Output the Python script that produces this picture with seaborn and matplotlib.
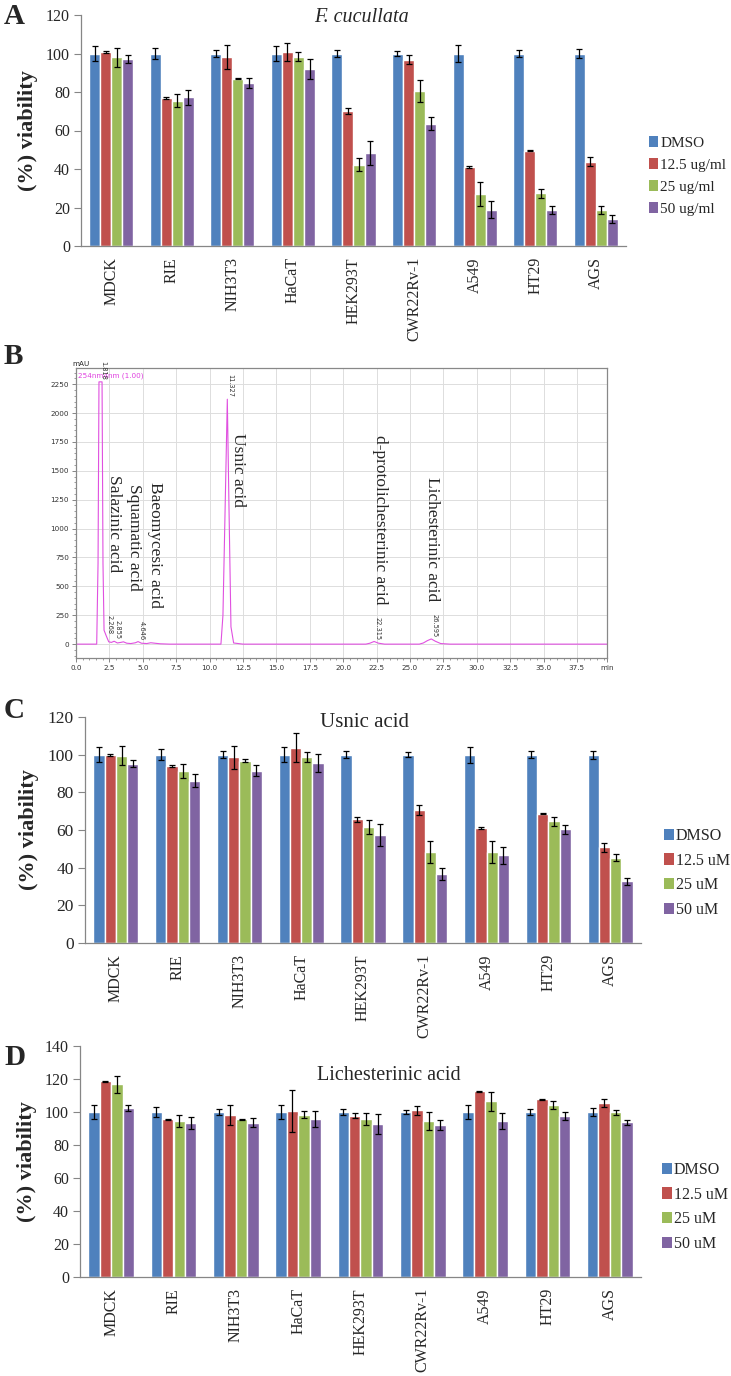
import numpy as np
import pandas as pd
import matplotlib
matplotlib.use('Agg')
import matplotlib.pyplot as plt
import seaborn as sns
from matplotlib.patches import Patch
from matplotlib.ticker import MultipleLocator, FixedLocator

# ---- data ----
cells = ['MDCK', 'RIE', 'NIH3T3', 'HaCaT', 'HEK293T', 'CWR22Rv-1', 'A549', 'HT29', 'AGS']
bar_colors = ['#4F81BD', '#C0504D', '#9BBB59', '#8064A2']
doses_ug = ['DMSO', '12.5 ug/ml', '25 ug/ml', '50 ug/ml']
doses_um = ['DMSO', '12.5 uM', '25 uM', '50 uM']

# A: F. cucullata extract
fc_dmso = [100, 100, 100, 100, 100, 100, 100, 100, 100]
fc_125 = [101.0, 76.8, 98.2, 100.7, 70.3, 96.8, 41.2, 49.6, 43.8]
fc_25 = [98.0, 75.5, 87.0, 98.4, 42.3, 80.3, 27.0, 27.3, 18.6]
fc_50 = [97.3, 77.2, 84.8, 92.0, 48.3, 63.6, 18.8, 18.8, 14.2]
fc_dmso_err = [4.0, 3.0, 2.0, 4.0, 2.0, 1.5, 4.2, 1.8, 2.2]
fc_125_err = [0.5, 0.5, 6.0, 4.5, 1.5, 2.5, 0.5, 0.3, 2.5]
fc_25_err = [5.0, 3.5, 0.5, 2.5, 3.5, 5.7, 6.0, 2.5, 2.0]
fc_50_err = [2.0, 3.8, 2.5, 5.0, 6.0, 3.3, 4.5, 2.2, 2.0]

# C: usnic acid
us_dmso = [100, 100, 100, 100, 100, 100, 100, 100, 100]
us_125 = [99.6, 94.0, 98.5, 103.6, 65.6, 70.7, 61.0, 68.7, 50.8]
us_25 = [99.5, 91.2, 96.8, 98.7, 61.5, 48.3, 48.3, 64.6, 45.3]
us_50 = [95.3, 86.2, 91.5, 95.7, 57.3, 36.7, 46.6, 60.3, 32.7]
us_dmso_err = [4.0, 3.0, 2.0, 4.0, 2.0, 1.5, 4.2, 1.7, 2.2]
us_125_err = [0.5, 0.5, 6.0, 7.7, 1.5, 2.5, 0.5, 0.3, 2.5]
us_25_err = [5.0, 3.8, 0.8, 2.5, 3.7, 5.7, 6.0, 2.3, 2.0]
us_50_err = [2.0, 3.5, 2.8, 4.7, 6.0, 3.2, 4.5, 2.3, 1.8]

# D: lichesterinic acid
li_dmso = [100, 100, 100, 100, 100, 100, 100, 100, 100]
li_125 = [118.5, 95.5, 98.3, 100.5, 97.8, 101.0, 112.5, 107.6, 105.3]
li_25 = [116.9, 94.5, 95.7, 98.4, 95.9, 94.5, 106.5, 104.2, 99.7]
li_50 = [102.2, 93.6, 93.6, 95.7, 92.8, 92.1, 94.5, 97.7, 93.7]
li_dmso_err = [4.0, 2.8, 2.0, 4.0, 2.0, 1.5, 4.2, 1.7, 2.2]
li_125_err = [0.3, 0.3, 6.2, 12.7, 1.5, 2.6, 0.3, 0.3, 2.5]
li_25_err = [5.2, 3.8, 0.3, 2.2, 3.7, 5.6, 5.7, 2.4, 1.8]
li_50_err = [1.8, 3.6, 2.8, 4.7, 6.0, 3.2, 4.8, 2.3, 1.7]

# B: HPLC trace (254 nm)
rt_min = [0.0, 1.55, 1.65, 1.72, 1.95, 2.02, 2.10, 2.27, 2.45, 2.65, 2.855, 3.1, 3.35,
          3.55, 3.8, 4.1, 4.45, 4.646, 4.9, 5.3, 5.6, 5.9, 6.3, 7.0, 10.85, 11.0, 11.15,
          11.327, 11.45, 11.6, 11.8, 12.5, 21.7, 22.0, 22.315, 22.65, 23.1, 25.7, 26.0,
          26.3, 26.595, 26.9, 27.3, 28.0, 39.75]
signal_mau = [0, 0, 700, 2270, 2270, 700, 120, 70, 20, 15, 25, 10, 15, 20, 8, 5, 12, 22,
              8, 5, 12, 8, 3, 0, 0, 250, 1100, 2120, 1200, 150, 10, 0, 0, 8, 23, 8, 0, 0,
              10, 30, 45, 25, 5, 0, 0]
peak_rt = [1.818, 2.268, 2.855, 4.646, 11.327, 22.315, 26.595]
peak_top = [2270, 70, 25, 22, 2120, 23, 45]
peak_text = ['1.818', '2.268', '2.855', '4.646', '11.327', '22.315', '26.595']
compounds = ['Salazinic acid', 'Squamatic acid', 'Baeomycesic acid', 'Usnic acid',
             'd-protolichesterinic acid', 'Lichesterinic acid']
compound_rt = [2.84, 4.34, 5.91, 12.13, 22.75, 26.65]
compound_top = [1460, 1390, 1400, 1825, 1810, 1445]

# ---- style ----
sns.set_style('white')
plt.rcParams['font.family'] = ['Liberation Serif', 'DejaVu Serif']
W, H = 731, 1376
fig = plt.figure(figsize=(W / 100, H / 100), dpi=100)
AXIS_GRAY = '#868686'


def px_axes(left, right, top, bottom):
    return fig.add_axes([left / W, 1 - bottom / H, (right - left) / W, (bottom - top) / H])


def bar_panel(ax, series, errs, doses, ymax, step, tick_fs):
    rows = []
    for dose, vals in zip(doses, series):
        for c, v in zip(cells, vals):
            rows.append([c, dose, v])
    df = pd.DataFrame(rows, columns=['cell', 'dose', 'value'])
    sns.barplot(data=df, x='cell', y='value', hue='dose', palette=bar_colors,
                width=0.73, errorbar=None, saturation=1, legend=False, ax=ax)
    for cont, err in zip(ax.containers, errs):
        xs = [b.get_x() + b.get_width() / 2 for b in cont]
        ys = [b.get_height() for b in cont]
        ax.errorbar(xs, ys, yerr=err, fmt='none', ecolor='black', elinewidth=0.9,
                    capsize=2.5, capthick=0.9)
    ax.set_xlim(-0.5, len(cells) - 0.5)
    ax.set_ylim(0, ymax)
    ax.set_yticks(np.arange(0, ymax + 1, step))
    ax.set_xlabel('')
    ax.set_ylabel('(%) viability', fontsize=16, fontweight='bold', labelpad=6)
    ax.set_xticks(range(len(cells)))
    ax.set_xticklabels(cells, rotation=90, fontsize=11.5)
    ax.xaxis.set_minor_locator(FixedLocator(np.arange(-0.5, len(cells), 1)))
    ax.tick_params(axis='x', which='major', length=0, pad=8)
    ax.tick_params(axis='x', which='minor', length=5, color=AXIS_GRAY, width=0.8)
    ax.tick_params(axis='y', length=5, color=AXIS_GRAY, width=0.8, labelsize=tick_fs, pad=3,
                   left=True)
    for s in ['top', 'right']:
        ax.spines[s].set_visible(False)
    for s in ['left', 'bottom']:
        ax.spines[s].set_color(AXIS_GRAY)
        ax.spines[s].set_linewidth(0.9)


def bar_legend(doses, x_px, yc_px, fs):
    handles = [Patch(facecolor=c, edgecolor='none') for c in bar_colors]
    fig.legend(handles, doses, loc='center left', bbox_to_anchor=(x_px / W, 1 - yc_px / H),
               frameon=False, fontsize=fs, handlelength=0.6, handleheight=0.7,
               handletextpad=0.15, labelspacing=0.55, borderpad=0, borderaxespad=0)


# ---- A ----
axA = px_axes(81, 626, 15, 246)
bar_panel(axA, [fc_dmso, fc_125, fc_25, fc_50],
          [fc_dmso_err, fc_125_err, fc_25_err, fc_50_err], doses_ug, 120, 20, 11.5)
bar_legend(doses_ug, 649, 176, 11)
fig.text(361 / W, 1 - 17 / H, 'F. cucullata', style='italic', fontsize=14.5,
         ha='center', va='center')

# ---- B ----
axB = px_axes(76, 607, 368, 658)
sns.lineplot(x=rt_min, y=signal_mau, ax=axB, color='#E050E0', lw=0.8,
             estimator=None, sort=False)
axB.set_xlim(0, 39.75)
axB.set_ylim(-120, 2390)
xt = list(np.arange(0, 37.6, 2.5)) + [39.75]
axB.set_xticks(xt)
axB.set_xticklabels(['%.1f' % v for v in xt[:-1]] + ['min'], fontsize=5.2,
                    family=['DejaVu Sans'], color='#333333')
axB.set_yticks(np.arange(0, 2251, 250))
axB.set_yticklabels([str(v) for v in range(0, 2251, 250)], fontsize=5.2,
                    family=['DejaVu Sans'], color='#333333')
axB.xaxis.set_minor_locator(MultipleLocator(0.5))
axB.yaxis.set_minor_locator(MultipleLocator(50))
axB.tick_params(which='major', length=3, width=0.5, color='#555555', pad=2,
                bottom=True, left=True)
axB.tick_params(which='minor', length=1.5, width=0.4, color='#555555',
                bottom=True, left=True)
axB.grid(True, which='major', color='#DDDDDD', lw=0.7)
axB.set_axisbelow(True)
for s in axB.spines.values():
    s.set_color('#888888')
    s.set_linewidth(0.9)
axB.text(-0.006, 1.004, 'mAU', transform=axB.transAxes, fontsize=5.2,
         family=['DejaVu Sans'], ha='left', va='bottom')
axB.text(0.003, 0.985, '254nm4nm (1.00)', transform=axB.transAxes, fontsize=5.2,
         family=['DejaVu Sans'], color='#E040E0', ha='left', va='top')
for t, h, s in zip(peak_rt, peak_top, peak_text):
    axB.text(t + 0.25, h + 15, s, rotation=270, fontsize=4.8, family=['DejaVu Sans'],
             ha='center', va='bottom', color='#333333')
for name, t, top in zip(compounds, compound_rt, compound_top):
    axB.text(t, top, name, rotation=270, fontsize=12.5, ha='center', va='top')

# ---- C ----
axC = px_axes(85, 641, 717, 943)
bar_panel(axC, [us_dmso, us_125, us_25, us_50],
          [us_dmso_err, us_125_err, us_25_err, us_50_err], doses_um, 120, 20, 12.5)
bar_legend(doses_um, 664, 873, 11.5)
fig.text(365 / W, 1 - 722 / H, 'Usnic acid', fontsize=15, ha='center', va='center')

# ---- D ----
axD = px_axes(80, 641, 1046, 1277)
bar_panel(axD, [li_dmso, li_125, li_25, li_50],
          [li_dmso_err, li_125_err, li_25_err, li_50_err], doses_um, 140, 20, 11.5)
bar_legend(doses_um, 662, 1207, 11.5)
fig.text(389 / W, 1 - 1075 / H, 'Lichesterinic acid', fontsize=14.5, ha='center', va='center')

# panel letters
for lab, ytop in zip('ABCD', [3, 343, 697, 1044]):
    fig.text(4 / W, 1 - ytop / H, lab, fontsize=21, fontweight='bold', ha='left', va='top')

fig.savefig('out.png', dpi=100)
